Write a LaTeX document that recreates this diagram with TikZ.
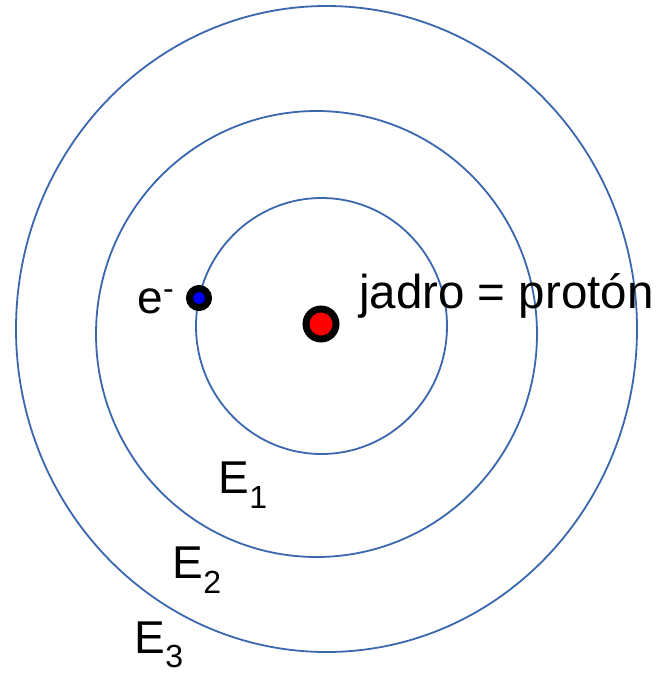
\documentclass[tikz,border=0pt]{standalone}
\usepackage{fontspec}
\setmainfont{Liberation Sans}
\definecolor{orbitblue}{HTML}{3A67AE}
\begin{document}
\begin{tikzpicture}[x=1pt,y=-1pt,
  orbit/.style={draw=orbitblue,line width=1.8pt},
  particle/.style={draw=black,line width=7pt},
  lbl/.style={anchor=base west,inner sep=0pt,font=\fontsize{46}{55}\selectfont},
  sub/.style={anchor=base west,inner sep=0pt,text depth=0pt,font=\fontsize{32}{38}\selectfont}]
\useasboundingbox (0,0) rectangle (658,673);
\fill[white] (0,0) rectangle (658,673);
\draw[orbit] (326.5,329) ellipse [x radius=310.5, y radius=323];
\draw[orbit] (316.5,334) ellipse [x radius=220.5, y radius=223];
\draw[orbit] (321.5,326) ellipse [x radius=125.5, y radius=128];
\draw[particle,fill=blue] (199,298) circle [radius=9.5];
\draw[particle,fill=red] (321,324) circle [radius=15];
\node[lbl,font=\fontsize{47.5}{57}\selectfont] (jadro) at (359,308) {jadro = protón};
\node[lbl] (e) at (137,313) {e};
\node[sub] (eminus) at (e.base east) [yshift=14pt] {-};
\node[lbl] (E1) at (218,493) {E};
\node[sub] (s1) at (E1.base east) [yshift=-15pt] {1};
\node[lbl] (E2) at (172,578) {E};
\node[sub] (s2) at (E2.base east) [yshift=-15pt] {2};
\node[lbl] (E3) at (134,653) {E};
\node[sub] (s3) at (E3.base east) [yshift=-14pt] {3};
\end{tikzpicture}
\end{document}
